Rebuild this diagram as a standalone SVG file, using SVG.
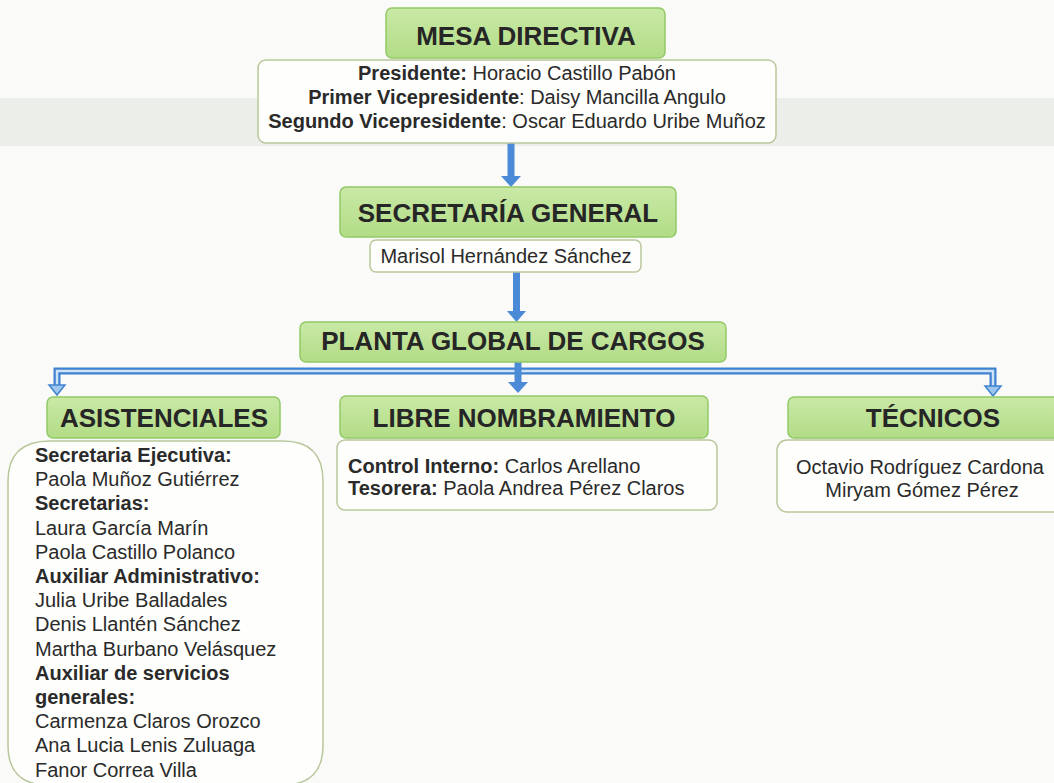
<svg xmlns="http://www.w3.org/2000/svg" width="1054" height="783" viewBox="0 0 1054 783">
<defs>
<linearGradient id="gg" x1="0" y1="0" x2="0" y2="1">
<stop offset="0" stop-color="#c9e9a6"/>
<stop offset="1" stop-color="#b2dc86"/>
</linearGradient>
<style>
.g{fill:url(#gg);stroke:#93c968;stroke-width:1.5}
.w{fill:#fefefc;stroke:#b9c79c;stroke-width:1.5}
.h{font-family:"Liberation Sans",Arial,sans-serif;font-weight:bold;font-size:26px;fill:#262626;text-anchor:middle}
.t{font-family:"Liberation Sans",Arial,sans-serif;font-size:20px;fill:#2a2a2a}
.b{font-weight:bold}
.c{text-anchor:middle}
.ar{fill:#4a8ad6}
.dl{fill:none;stroke:#3f82cf;stroke-width:7}
.dli{fill:none;stroke:#cfe2f6;stroke-width:2.5}
.ah{fill:#9cc6ee;stroke:#3f82cf;stroke-width:1.5}
</style>
</defs>
<rect width="1054" height="783" fill="#fafaf8"/>
<rect x="0" y="98" width="1054" height="48" fill="#eceee9"/>

<g id="connectors">
<path class="ar" d="M507.5 143 H514.5 V176 H521 L511 187 L501 176 H507.5 Z"/>
<path class="ar" d="M513 272 H520 V311 H526 L516.5 322 L507 311 H513 Z"/>
<path class="dl" d="M57 385 V371 H993 V386"/>
<path class="dli" d="M57 385 V371 H993 V386"/>
<path class="ah" d="M49 385 H65 L57 395 Z"/>
<path class="ah" d="M985 386 H1001 L993 396 Z"/>
<path class="ar" d="M514.5 362 H521.5 V382 H528 L518 393 L508 382 H514.5 Z"/>
</g>

<g id="mesa-directiva">
<rect class="g" x="386" y="8" width="279" height="50" rx="6"/>
<text class="h" x="526" y="45">MESA DIRECTIVA</text>
</g>
<g id="mesa-miembros">
<rect class="w" x="258" y="60" width="518" height="83" rx="8"/>
<text class="t c" x="517" y="80"><tspan class="b">Presidente:</tspan> Horacio Castillo Pabón</text>
<text class="t c" x="517" y="104"><tspan class="b">Primer Vicepresidente</tspan>: Daisy Mancilla Angulo</text>
<text class="t c" x="517" y="128"><tspan class="b">Segundo Vicepresidente</tspan>: Oscar Eduardo Uribe Muñoz</text>
</g>

<g id="secretaria-general">
<rect class="g" x="340" y="187" width="336" height="50" rx="6"/>
<text class="h" x="508" y="222">SECRETARÍA GENERAL</text>
</g>
<g id="secretaria-nombre">
<rect class="w" x="370" y="240" width="271" height="32" rx="6"/>
<text class="t c" x="506" y="263">Marisol Hernández Sánchez</text>
</g>

<g id="planta-global">
<rect class="g" x="300" y="322" width="426" height="40" rx="6"/>
<text class="h" x="513" y="350">PLANTA GLOBAL DE CARGOS</text>
</g>

<g id="asistenciales">
<rect class="g" x="47" y="397" width="233" height="41" rx="6"/>
<text class="h" x="164" y="427">ASISTENCIALES</text>
</g>
<g id="asistenciales-lista">
<path class="w" d="M50 441 H283 Q323 441 323 481 V745 Q323 785 283 785 H48 Q8 785 8 745 V481 Q8 441 50 441 Z"/>
<text class="t" x="35" y="462" font-weight="bold">Secretaria Ejecutiva:</text>
<text class="t" x="35" y="486">Paola Muñoz Gutiérrez</text>
<text class="t" x="35" y="510" font-weight="bold">Secretarias:</text>
<text class="t" x="35" y="535">Laura García Marín</text>
<text class="t" x="35" y="559">Paola Castillo Polanco</text>
<text class="t" x="35" y="583" font-weight="bold">Auxiliar Administrativo:</text>
<text class="t" x="35" y="607">Julia Uribe Balladales</text>
<text class="t" x="35" y="631">Denis Llantén Sánchez</text>
<text class="t" x="35" y="656">Martha Burbano Velásquez</text>
<text class="t" x="35" y="680" font-weight="bold">Auxiliar de servicios</text>
<text class="t" x="35" y="704" font-weight="bold">generales:</text>
<text class="t" x="35" y="728">Carmenza Claros Orozco</text>
<text class="t" x="35" y="752">Ana Lucia Lenis Zuluaga</text>
<text class="t" x="35" y="777">Fanor Correa Villa</text>
</g>

<g id="libre-nombramiento">
<rect class="g" x="340" y="396" width="368" height="42" rx="6"/>
<text class="h" x="524" y="427">LIBRE NOMBRAMIENTO</text>
</g>
<g id="libre-lista">
<rect class="w" x="337" y="440" width="380" height="70" rx="8"/>
<text class="t" x="348" y="473"><tspan class="b">Control Interno:</tspan> Carlos Arellano</text>
<text class="t" x="348" y="495"><tspan class="b">Tesorera:</tspan> Paola Andrea Pérez Claros</text>
</g>

<g id="tecnicos">
<rect class="g" x="788" y="397" width="272" height="41" rx="6"/>
<text class="h" x="933" y="427">TÉCNICOS</text>
</g>
<g id="tecnicos-lista">
<rect class="w" x="777" y="440" width="290" height="72" rx="10"/>
<text class="t c" x="920" y="474">Octavio Rodríguez Cardona</text>
<text class="t c" x="922" y="497">Miryam Gómez Pérez</text>
</g>
</svg>
